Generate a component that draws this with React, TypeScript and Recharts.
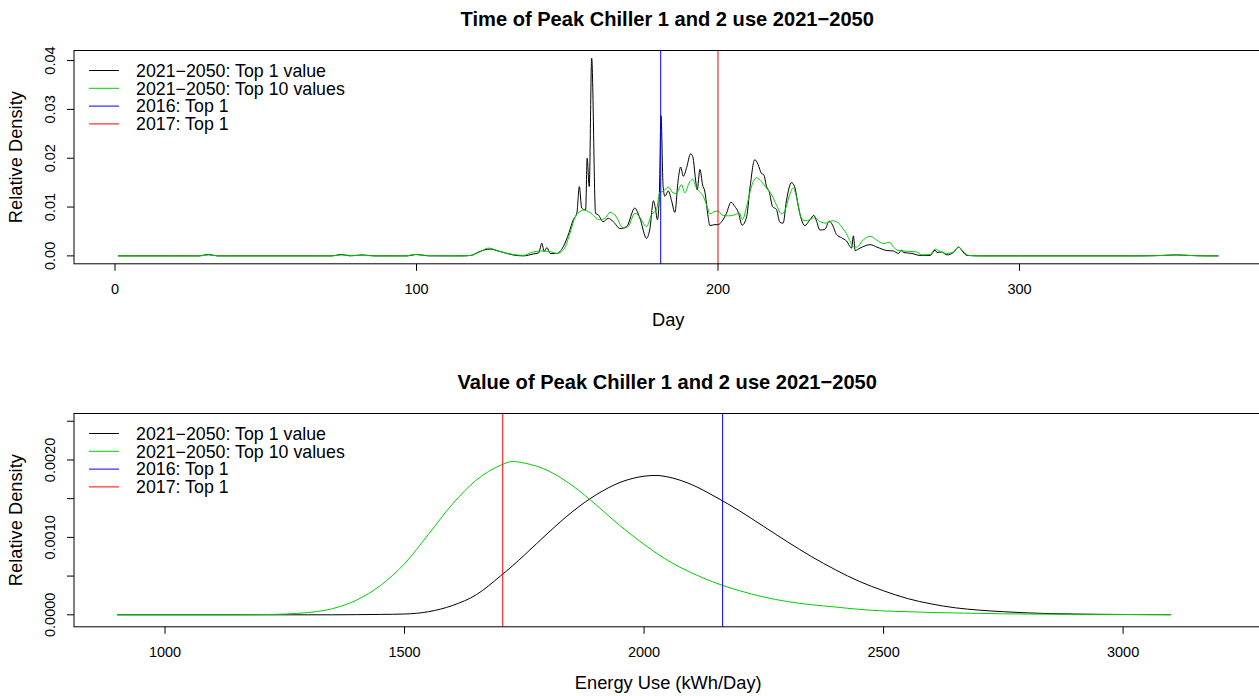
import React from 'react';
import { LineChart, Line, XAxis, YAxis, ReferenceLine } from 'recharts';

// ---------- DATA ----------
// Top panel: day-of-year density curves
const top1Days = [1, 20, 28, 31, 34, 60, 72, 75, 78, 82, 86, 97, 100, 104, 115, 118, 121, 124.4, 127.7, 132, 135.4, 138.8, 140.5, 141.6, 142.3, 143.3, 144.3, 146.5, 148.7, 150.6, 152, 153.2, 154, 154.8, 156.1, 156.6, 157.3, 158.1, 159.4, 160.3, 161.9, 163.6, 165.3, 167.5, 169.7, 172.4, 174.1, 176.3, 177.4, 178.6, 179.3, 179.9, 180.5, 181.1, 181.8, 182.4, 183.5, 184.6, 185.7, 186.8, 187.6, 188.5, 189.6, 190.9, 191.6, 192.7, 193.1, 194, 194.9, 195.6, 196.7, 197.3, 199, 200.1, 201.2, 202.8, 204.3, 205.6, 206.7, 208, 209.5, 210.6, 212.2, 213.3, 214.4, 215.2, 216.1, 217, 218.1, 219.4, 220.5, 221.6, 222.7, 224.4, 225.4, 226.6, 227.7, 228.8, 230.5, 231.8, 232.7, 233.8, 235.4, 236.9, 238, 239.3, 241, 242.7, 244.3, 244.9, 245.5, 247.1, 250.5, 252.7, 256, 258.2, 259.8, 261, 261.5, 264.3, 267, 270.4, 272, 272.6, 274.2, 275.9, 278.1, 279.8, 280.9, 282.5, 287, 300, 340, 348, 352, 356, 362, 366];
const top1Dens = [0, 0, 0, 0.0003, 0, 0, 0, 0.0003, 0, 0.0002, 0, 0, 0.0003, 0, 0, 0.0001, 0.0009, 0.0014, 0.0009, 0.0002, 0, 0.0004, 0.0006, 0.0026, 0.0009, 0.0017, 0.0005, 0.0005, 0.0019, 0.0048, 0.0074, 0.0088, 0.0142, 0.0098, 0.0094, 0.02, 0.0142, 0.0405, 0.0087, 0.0084, 0.007, 0.0077, 0.007, 0.0056, 0.006, 0.0098, 0.0077, 0.0036, 0.0055, 0.0113, 0.0095, 0.0074, 0.0115, 0.0287, 0.0142, 0.0122, 0.0133, 0.0113, 0.0089, 0.0156, 0.0182, 0.0163, 0.0181, 0.0209, 0.0204, 0.0149, 0.0135, 0.0177, 0.0145, 0.0133, 0.0081, 0.0062, 0.0064, 0.0064, 0.007, 0.0087, 0.011, 0.0101, 0.009, 0.0063, 0.008, 0.0139, 0.0197, 0.0187, 0.0169, 0.0166, 0.0142, 0.0131, 0.0101, 0.0095, 0.0069, 0.0067, 0.0113, 0.015, 0.0142, 0.0103, 0.0074, 0.0062, 0.0074, 0.0083, 0.0071, 0.0053, 0.0054, 0.0071, 0.0063, 0.0044, 0.0037, 0.003, 0.0016, 0.0041, 0.0011, 0.0016, 0.0023, 0.0018, 0.0011, 0.001, 0.0005, 0.0012, 0.0007, 0.0005, 0.0001, 0.0001, 0.0012, 0.0007, 0.0008, 0.0002, 0.0007, 0.0018, 0.0011, 0.0001, 0, 0, 0, 0.0001, 0.0002, 0.0001, 0, 0];

const top10Days = [1, 28, 31, 34, 72, 75, 78, 82, 86, 97, 99, 103, 115, 118, 121, 123.8, 127.7, 132, 135.4, 138.7, 141, 144.3, 146.5, 148.7, 150.9, 152.5, 154.3, 155.3, 157.5, 160.8, 162.5, 164.2, 165.8, 168.6, 170.2, 172.4, 173.5, 176.3, 178, 179.6, 180.7, 181.8, 183.5, 185.1, 186.2, 187.9, 189, 190.4, 191.6, 192.7, 193.8, 195.1, 196.4, 197.3, 199, 200.1, 201.2, 203.4, 205.6, 207, 208.1, 209.5, 211.1, 212.8, 214.4, 216.1, 217.8, 219.4, 221.1, 222.2, 223.6, 224.9, 226, 227.4, 228.8, 230.5, 232.1, 233.8, 236, 238, 239.3, 240.5, 241.5, 242.2, 243.5, 244.9, 246, 248.2, 250.5, 253.2, 254.9, 256.9, 258.2, 259.8, 261.5, 265.9, 267.6, 270.4, 272, 273.7, 275.9, 278.1, 279.8, 281.4, 283.1, 287, 340, 348, 352, 356, 362, 366];
const top10Dens = [0, 0, 0.0002, 0, 0, 0.0002, 0.0001, 0.0001, 0, 0, 0.0003, 0.0001, 0, 0.0001, 0.0008, 0.0016, 0.0009, 0.0003, 0.0001, 0.0008, 0.001, 0.0009, 0.0005, 0.0012, 0.0046, 0.0078, 0.0091, 0.0094, 0.0089, 0.0074, 0.0077, 0.0089, 0.0084, 0.0057, 0.006, 0.0087, 0.0084, 0.006, 0.0085, 0.0094, 0.013, 0.0132, 0.0141, 0.0129, 0.0128, 0.0146, 0.0129, 0.0149, 0.0157, 0.0141, 0.0132, 0.0122, 0.0101, 0.0086, 0.0091, 0.0092, 0.0084, 0.0082, 0.0084, 0.0089, 0.0074, 0.0101, 0.0142, 0.016, 0.0152, 0.0139, 0.0125, 0.0104, 0.0086, 0.0093, 0.0122, 0.0139, 0.0122, 0.0081, 0.0072, 0.0074, 0.0079, 0.007, 0.0067, 0.0072, 0.007, 0.0064, 0.0055, 0.005, 0.0034, 0.0019, 0.0018, 0.0033, 0.004, 0.003, 0.0025, 0.0028, 0.0018, 0.0011, 0.001, 0.0008, 0.0002, 0.0003, 0.0014, 0.0009, 0.0005, 0.0008, 0.0018, 0.0009, 0.0001, 0, 0, 0.0001, 0.0002, 0.0001, 0, 0];

const peakDay2016 = 181;
const peakDay2017 = 200;

// Bottom panel: energy-use density curves
const energyUse = [900, 950, 1000, 1050, 1100, 1150, 1200, 1250, 1300, 1350, 1400, 1450, 1500, 1550, 1600, 1650, 1700, 1725, 1750, 1800, 1850, 1900, 1950, 2000, 2025, 2050, 2100, 2150, 2200, 2250, 2300, 2350, 2400, 2450, 2500, 2550, 2600, 2650, 2700, 2750, 2800, 2850, 2900, 2950, 3000, 3050, 3100];
const energyTop1 = [0, 0, 0, 0, 0, 0, 0, 0, 0, 0, 0.000002, 0.000005, 0.00001, 0.00004, 0.00012, 0.00026, 0.0005, 0.00063, 0.00077, 0.00106, 0.00133, 0.00155, 0.00171, 0.00179, 0.0018, 0.00178, 0.00168, 0.00152, 0.00134, 0.00114, 0.00094, 0.00075, 0.00058, 0.00043, 0.00031, 0.00021, 0.00014, 0.00009, 0.00006, 0.00004, 0.000025, 0.000015, 0.00001, 0.000006, 0.000004, 0.000002, 0.000001];
const energyTop10 = [0, 0, 0, 0, 0, 0, 0.000002, 0.00001, 0.00003, 0.00008, 0.00019, 0.00038, 0.00066, 0.00104, 0.00143, 0.00174, 0.00193, 0.00198, 0.00196, 0.00186, 0.00167, 0.00142, 0.00115, 0.00091, 0.0008, 0.0007, 0.00054, 0.00041, 0.00031, 0.00023, 0.00017, 0.00013, 0.0001, 0.00007, 0.00005, 0.00004, 0.00003, 0.000024, 0.000018, 0.000013, 0.00001, 0.000008, 0.000006, 0.000005, 0.000004, 0.000003, 0.000002];

const peakValue2016 = 2164;
const peakValue2017 = 1705;

const legendLabels = ['2021\u22122050: Top 1 value', '2021\u22122050: Top 10 values', '2016: Top 1', '2017: Top 1'];
const legendColors = ['#000000', '#00CD00', '#0000FF', '#FF0000'];

const dayTicks = [0, 100, 200, 300];
const topDensTicks = [0, 0.01, 0.02, 0.03, 0.04];
const energyTicks = [1000, 1500, 2000, 2500, 3000];
const bottomDensTicks = [0, 0.0005, 0.001, 0.0015, 0.002, 0.0025];
const bottomDensLabels = ['0.0000', '', '0.0010', '', '0.0020', ''];
const topDensLabels = ['0.00', '0.01', '0.02', '0.03', '0.04'];

// ---------- LAYOUT ----------
const FONT = '"Liberation Sans", Arial, Helvetica, sans-serif';
const CW = 1264;
const CH = 345;
const PL = 74;
const PT = 50.5;
const PW = 1188.5;
const PH = 213.3;
const XAH = 60;
const MB = CH - PT - PH - XAH;
const TICK_FS = 14.5;
const LAB_FS = 18.3;
const LEG_FS = 17.8;
const TITLE_FS = 20.1;

function makeXTick() {
  return (props: any) => (
    <text x={props.x} y={props.y + 23.5} textAnchor="middle" fontSize={TICK_FS} fontFamily={FONT} fill="#000">
      {props.payload.value}
    </text>
  );
}

function makeYTick(ticks: number[], labels: string[]) {
  return (props: any) => {
    const v = props.payload.value;
    let idx = -1;
    ticks.forEach((t, i) => { if (Math.abs(t - v) < 1e-9) idx = i; });
    const lab = idx >= 0 ? labels[idx] : '';
    const bx = 55;
    return (
      <text x={bx} y={props.y} transform={`rotate(-90 ${bx} ${props.y})`} textAnchor="middle" fontSize={TICK_FS} fontFamily={FONT} fill="#000">
        {lab}
      </text>
    );
  };
}

function Overlay({ title, xLabel }: { title: string; xLabel: string }) {
  const cx = PL + PW / 2;
  return (
    <svg width={CW} height={CH} style={{ position: 'absolute', left: 0, top: 0, pointerEvents: 'none' }}>
      <rect x={PL} y={PT} width={PW} height={PH} fill="none" stroke="#000" strokeWidth={1} />
      <text x={cx - 1} y={26} textAnchor="middle" fontSize={TITLE_FS} fontWeight="bold" fontFamily={FONT} fill="#000">{title}</text>
      <text x={cx} y={PT + PH + 62.5} textAnchor="middle" fontSize={LAB_FS} fontFamily={FONT} fill="#000">{xLabel}</text>
      <text x={22.5} y={PT + PH / 2} transform={`rotate(-90 22.5 ${PT + PH / 2})`} textAnchor="middle" fontSize={LAB_FS} fontFamily={FONT} fill="#000">Relative Density</text>
      {legendLabels.map((l, i) => {
        const by = PT + 26.3 + 17.8 * i;
        return (
          <g key={l}>
            <line x1={89} x2={119} y1={by - 6.3} y2={by - 6.3} stroke={legendColors[i]} strokeWidth={1} />
            <text x={136} y={by} fontSize={LEG_FS} fontFamily={FONT} fill="#000">{l}</text>
          </g>
        );
      })}
    </svg>
  );
}

function Panel(props: {
  top: number;
  title: string;
  xLabel: string;
  xDomain: [number, number];
  yDomain: [number, number];
  xTicks: number[];
  yTicks: number[];
  yLabels: string[];
  series: { data: { x: number; y: number }[]; color: string; name: string }[];
  vlines: { x: number; color: string }[];
}) {
  return (
    <div style={{ position: 'absolute', left: 0, top: props.top, width: CW, height: CH }}>
      <LineChart width={CW} height={CH} margin={{ top: PT, right: CW - PL - PW, bottom: MB, left: 0 }}>
        <XAxis
          type="number"
          dataKey="x"
          domain={props.xDomain}
          ticks={props.xTicks}
          interval={0}
          allowDataOverflow
          axisLine={false}
          tickLine={{ stroke: '#000' }}
          tickSize={7}
          tickMargin={0}
          height={XAH}
          tick={makeXTick()}
        />
        <YAxis
          type="number"
          domain={props.yDomain}
          ticks={props.yTicks}
          interval={0}
          allowDataOverflow
          axisLine={false}
          tickLine={{ stroke: '#000' }}
          tickSize={7}
          tickMargin={0}
          width={PL}
          tick={makeYTick(props.yTicks, props.yLabels)}
        />
        {props.series.map((s) => (
          <Line
            key={s.name}
            name={s.name}
            data={s.data}
            dataKey="y"
            type="monotone"
            stroke={s.color}
            strokeWidth={1}
            dot={false}
            activeDot={false}
            isAnimationActive={false}
          />
        ))}
        {props.vlines.map((v) => (
          <ReferenceLine key={v.color} x={v.x} stroke={v.color} strokeWidth={1} />
        ))}
      </LineChart>
      <Overlay title={props.title} xLabel={props.xLabel} />
    </div>
  );
}

const zip = (xs: number[], ys: number[]) => xs.map((x, i) => ({ x, y: ys[i] }));

export default function App() {
  return (
    <div style={{ position: 'absolute', left: 0, top: 0, width: 1259, height: 696, overflow: 'hidden', background: '#fff' }}>
      <Panel
        top={0}
        title={'Time of Peak Chiller 1 and 2 use 2021\u22122050'}
        xLabel="Day"
        xDomain={[-13.6, 380.6]}
        yDomain={[-0.00162, 0.04206]}
        xTicks={dayTicks}
        yTicks={topDensTicks}
        yLabels={topDensLabels}
        series={[
          { name: legendLabels[0], color: legendColors[0], data: zip(top1Days, top1Dens) },
          { name: legendLabels[1], color: legendColors[1], data: zip(top10Days, top10Dens) },
        ]}
        vlines={[
          { x: peakDay2016, color: legendColors[2] },
          { x: peakDay2017, color: legendColors[3] },
        ]}
      />
      <Panel
        top={363}
        title={'Value of Peak Chiller 1 and 2 use 2021\u22122050'}
        xLabel="Energy Use (kWh/Day)"
        xDomain={[810, 3291]}
        yDomain={[-0.000155, 0.0026]}
        xTicks={energyTicks}
        yTicks={bottomDensTicks}
        yLabels={bottomDensLabels}
        series={[
          { name: legendLabels[0], color: legendColors[0], data: zip(energyUse, energyTop1) },
          { name: legendLabels[1], color: legendColors[1], data: zip(energyUse, energyTop10) },
        ]}
        vlines={[
          { x: peakValue2016, color: legendColors[2] },
          { x: peakValue2017, color: legendColors[3] },
        ]}
      />
    </div>
  );
}
